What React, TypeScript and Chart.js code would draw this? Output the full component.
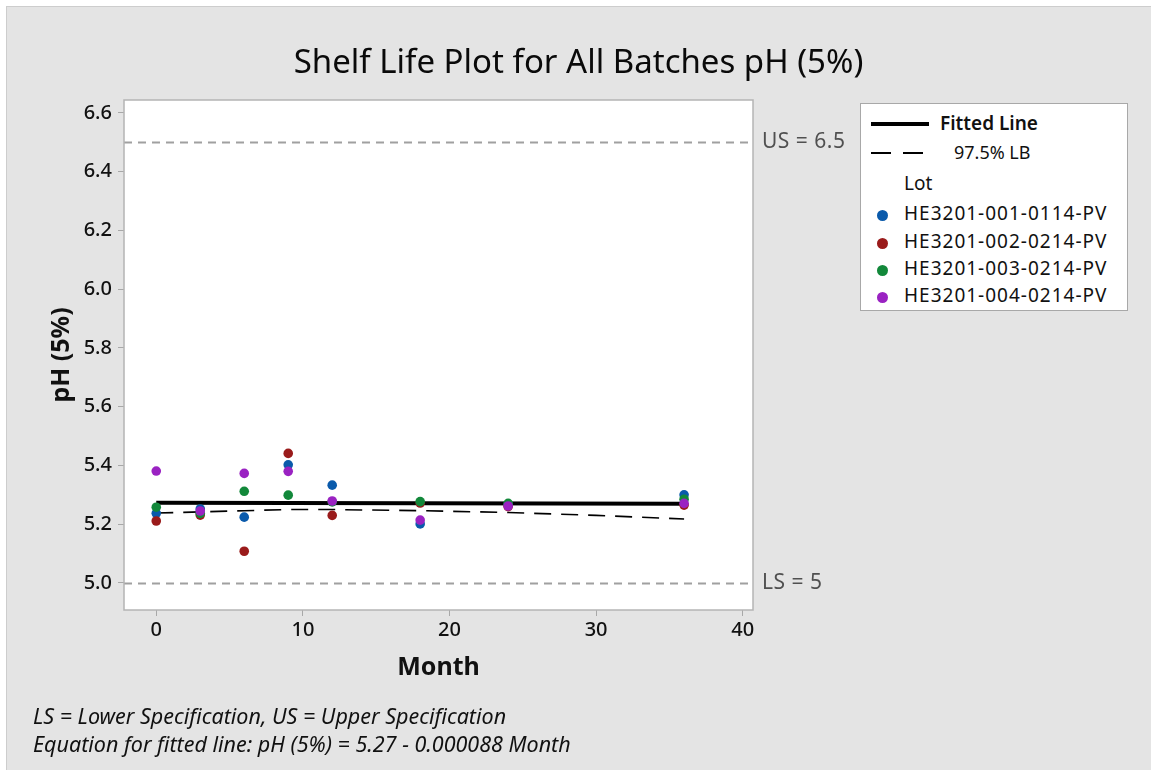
import React, { useEffect, useRef } from "react";
import { Chart, registerables } from "chart.js";

Chart.register(...registerables);

// ---- Data ----
const lotNames = [
  "HE3201-001-0114-PV",
  "HE3201-002-0214-PV",
  "HE3201-003-0214-PV",
  "HE3201-004-0214-PV",
];
const lotColors = ["#0a5aab", "#9a1b1b", "#12883a", "#9a22c2"];

const months = [0, 3, 6, 9, 12, 18, 24, 36];
const lot1 = [5.237, 5.252, 5.224, 5.402, 5.333, 5.201, 5.266, 5.300];
const lot2 = [5.211, 5.231, 5.108, 5.441, 5.230, 5.272, 5.260, 5.265];
const lot3 = [5.258, 5.237, 5.312, 5.299, 5.276, 5.277, 5.271, 5.285];
const lot4 = [5.381, 5.245, 5.373, 5.380, 5.279, 5.214, 5.262, 5.271];
const lotValues = [lot1, lot2, lot3, lot4];

const fitMonths = [0, 36];
const fitValues = [5.273, 5.270];

const lbMonths = [0, 3, 6, 9, 12, 18, 24, 30, 36];
const lbValues = [5.238, 5.242, 5.246, 5.250, 5.250, 5.246, 5.240, 5.230, 5.218];

const specValues = [6.5, 5.0];
const specLabels = ["US = 6.5", "LS = 5"];

const yTicks = [5.0, 5.2, 5.4, 5.6, 5.8, 6.0, 6.2, 6.4, 6.6];
const xTicks = [0, 10, 20, 30, 40];
const yRange = [4.908, 6.644];
const xRange = [-2.2, 40.7];

const FONT = "'Noto Sans', 'Open Sans', sans-serif";

const frameAndSpecPlugin = {
  id: "frameAndSpec",
  beforeDatasetsDraw(chart: any) {
    const { ctx, chartArea } = chart;
    const ys = chart.scales.y;
    ctx.save();
    ctx.strokeStyle = "#a0a0a0";
    ctx.lineWidth = 2;
    ctx.setLineDash([8, 6]);
    specValues.forEach((v) => {
      const py = Math.round(ys.getPixelForValue(v)) + 0.5;
      ctx.beginPath();
      ctx.moveTo(chartArea.left, py);
      ctx.lineTo(chartArea.right, py);
      ctx.stroke();
    });
    ctx.restore();
  },
  beforeDraw(chart: any) {
    const { ctx, chartArea } = chart;
    ctx.save();
    ctx.fillStyle = "#ffffff";
    ctx.fillRect(chartArea.left, chartArea.top, chartArea.right - chartArea.left, chartArea.bottom - chartArea.top);
    ctx.restore();
  },
  afterDraw(chart: any) {
    const { ctx, chartArea } = chart;
    const ys = chart.scales.y;
    ctx.save();
    ctx.strokeStyle = "#b4b4b4";
    ctx.lineWidth = 1.5;
    ctx.strokeRect(chartArea.left, chartArea.top, chartArea.right - chartArea.left, chartArea.bottom - chartArea.top);
    ctx.fillStyle = "#505050";
    ctx.font = `21px ${FONT}`;
    (ctx as any).letterSpacing = "0.5px";
    ctx.textBaseline = "middle";
    ctx.textAlign = "left";
    specValues.forEach((v, i) => {
      const py = ys.getPixelForValue(v);
      ctx.fillText(specLabels[i], chartArea.right + 9, py);
    });
    ctx.restore();
  },
};

export default function App() {
  const ref = useRef<HTMLCanvasElement | null>(null);

  useEffect(() => {
    if (!ref.current) return;
    const pointOrder = [4, 3, 2, 1];
    const datasets: any[] = [
      {
        type: "line",
        label: "Fitted Line",
        data: fitMonths.map((m, i) => ({ x: m, y: fitValues[i] })),
        borderColor: "#000000",
        borderWidth: 4,
        pointRadius: 0,
        order: 10,
      },
      {
        type: "line",
        label: "97.5% LB",
        data: lbMonths.map((m, i) => ({ x: m, y: lbValues[i] })),
        borderColor: "#000000",
        borderWidth: 1.6,
        borderDash: [17, 10],
        pointRadius: 0,
        order: 11,
      },
      ...lotNames.map((name, k) => ({
        type: "scatter",
        label: name,
        data: months.map((m, i) => ({ x: m, y: lotValues[k][i] })),
        backgroundColor: lotColors[k],
        borderColor: lotColors[k],
        borderWidth: 0,
        pointRadius: 4.8,
        order: pointOrder[k],
      })),
    ];

    const chart = new Chart(ref.current, {
      type: "scatter",
      data: { datasets },
      plugins: [frameAndSpecPlugin],
      options: {
        animation: false,
        responsive: false,
        maintainAspectRatio: false,
        layout: { padding: { left: 0, top: 100, right: 398, bottom: 0 } },
        plugins: {
          legend: { display: false },
          tooltip: { enabled: false },
          title: { display: false },
        },
        scales: {
          x: {
            type: "linear",
            min: xRange[0],
            max: xRange[1],
            afterFit: (s: any) => {
              s.height = 160;
            },
            afterBuildTicks: (s: any) => {
              s.ticks = xTicks.map((v) => ({ value: v }));
            },
            grid: {
              drawOnChartArea: false,
              drawTicks: true,
              tickLength: 6,
              color: "#a8a8a8",
            },
            border: { display: false },
            ticks: {
              color: "#111111",
              font: { family: FONT, size: 20, weight: "500" },
              padding: 2,
              maxRotation: 0,
              callback: (v: any) => String(v),
            },
            title: {
              display: true,
              text: "Month",
              color: "#111",
              font: { family: FONT, size: 25, weight: "bold" },
              padding: { top: 0, bottom: 87 },
            },
          },
          y: {
            type: "linear",
            min: yRange[0],
            max: yRange[1],
            afterFit: (s: any) => {
              s.width = 124;
            },
            afterBuildTicks: (s: any) => {
              s.ticks = yTicks.map((v) => ({ value: v }));
            },
            grid: {
              drawOnChartArea: false,
              drawTicks: true,
              tickLength: 6,
              color: "#a8a8a8",
            },
            border: { display: false },
            ticks: {
              color: "#111111",
              font: { family: FONT, size: 20, weight: "500" },
              padding: 6,
              callback: (v: any) => Number(v).toFixed(1),
            },
            title: {
              display: true,
              text: "pH (5%)",
              color: "#111",
              font: { family: FONT, size: 25, weight: "bold" },
              padding: { top: 47, bottom: 0 },
            },
          },
        },
      } as any,
    });
    return () => chart.destroy();
  }, []);

  const legendRowY = [212, 240, 267, 294];

  return (
    <div
      style={{
        position: "absolute",
        left: 0,
        top: 0,
        width: 1151,
        height: 770,
        overflow: "hidden",
        background: "#ffffff",
        fontFamily: FONT,
      }}
    >
      <div
        style={{
          position: "absolute",
          left: 6,
          top: 6,
          width: 1200,
          height: 800,
          background: "#e4e4e4",
          border: "1px solid #cdcdcd",
        }}
      />
      <canvas
        ref={ref}
        width={1151}
        height={770}
        style={{ position: "absolute", left: 0, top: 0, width: 1151, height: 770 }}
      />
      <div
        style={{
          position: "absolute",
          left: 0,
          width: 1157,
          top: 38,
          textAlign: "center",
          fontSize: 33,
          lineHeight: "46px",
          color: "#0a0a0a",
        }}
      >
        Shelf Life Plot for All Batches pH (5%)
      </div>
      {/* Legend */}
      <div
        style={{
          position: "absolute",
          left: 860,
          top: 103,
          width: 266,
          height: 206,
          background: "#fff",
          border: "1px solid #a8a8a8",
          color: "#111",
        }}
      >
        <div style={{ position: "absolute", left: 10, top: 18, width: 58, height: 3.5, background: "#000" }} />
        <div style={{ position: "absolute", left: 79, top: 7, fontSize: 19, lineHeight: "24px", fontWeight: 600 }}>
          Fitted Line
        </div>
        <div style={{ position: "absolute", left: 10, top: 48, width: 20, height: 1.6, background: "#000" }} />
        <div style={{ position: "absolute", left: 42, top: 48, width: 20, height: 1.6, background: "#000" }} />
        <div style={{ position: "absolute", left: 93, top: 36, fontSize: 18, lineHeight: "24px" }}>97.5% LB</div>
        <div style={{ position: "absolute", left: 43, top: 67, fontSize: 19, lineHeight: "24px" }}>Lot</div>
        {lotNames.map((n, i) => (
          <React.Fragment key={n}>
            <div
              style={{
                position: "absolute",
                left: 16,
                top: legendRowY[i] - 103 - 5 + 2,
                width: 11,
                height: 11,
                borderRadius: "50%",
                background: lotColors[i],
              }}
            />
            <div
              style={{
                position: "absolute",
                left: 43,
                top: legendRowY[i] - 103 - 12,
                fontSize: 19,
                letterSpacing: 1,
                lineHeight: "24px",
                whiteSpace: "nowrap",
              }}
            >
              {n}
            </div>
          </React.Fragment>
        ))}
      </div>
      {/* Footnotes */}
      <div
        style={{
          position: "absolute",
          left: 33,
          top: 702,
          fontSize: 21.5,
          lineHeight: "28px",
          fontStyle: "italic",
          color: "#111",
          whiteSpace: "nowrap",
        }}
      >
        <div>LS = Lower Specification, US = Upper Specification</div>
        <div>Equation for fitted line: pH (5%) = 5.27 - 0.000088 Month</div>
      </div>
    </div>
  );
}
